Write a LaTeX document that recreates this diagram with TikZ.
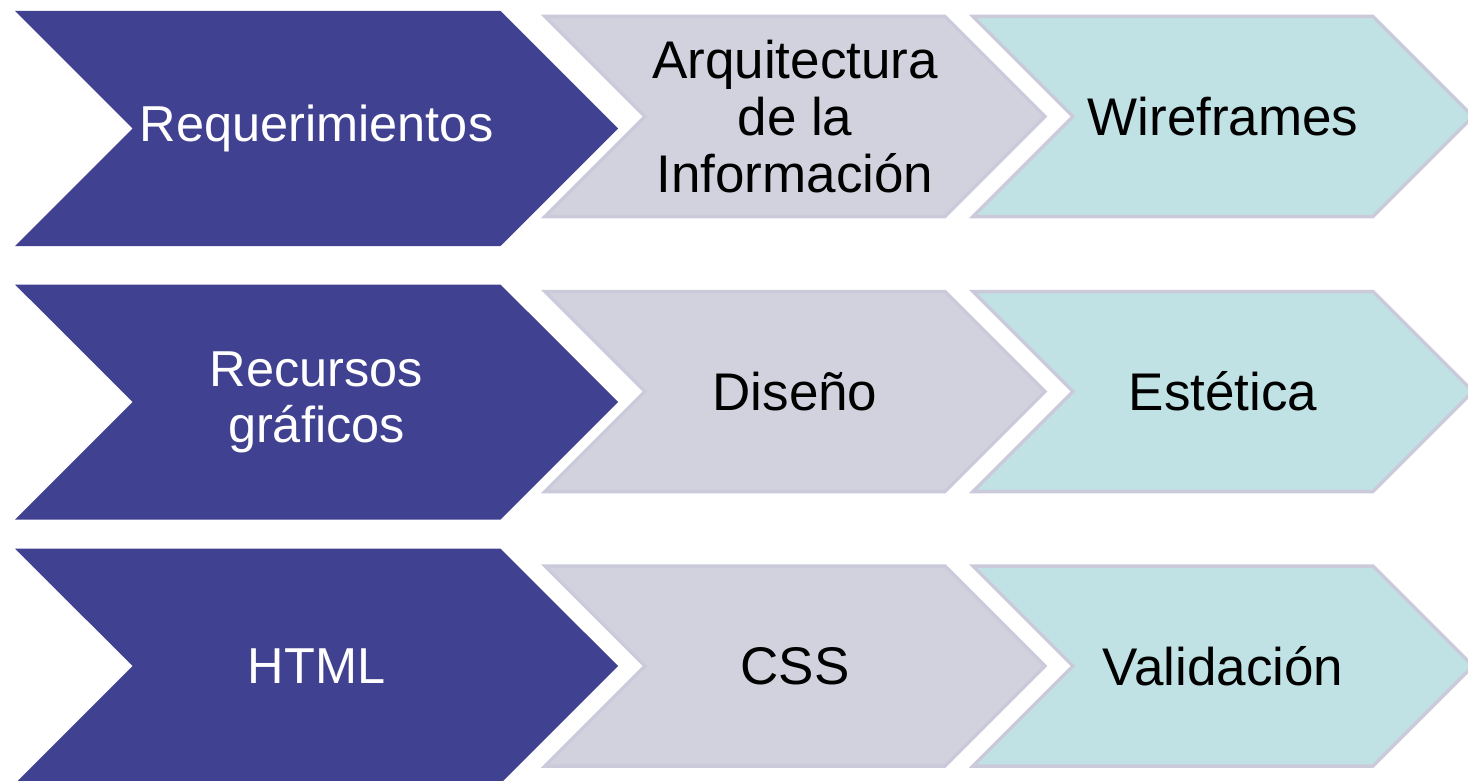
\documentclass[tikz,border=0pt]{standalone}
\usepackage{fontspec}
\setmainfont{Liberation Sans}
\usetikzlibrary{shapes.symbols}
\definecolor{chevblue}{RGB}{65,65,145}
\definecolor{chevgray}{RGB}{210,210,222}
\definecolor{chevteal}{RGB}{192,226,228}
\definecolor{chevline}{RGB}{202,202,218}

\begin{document}
\begin{tikzpicture}[
    x=1pt, y=-1pt,
    chevron/.style={signal, signal from=west, signal to=east, signal pointer angle=90, inner sep=0pt, align=center},
    mainstep/.style={chevron, fill=chevblue, text=white, minimum width=603pt, minimum height=235pt, font=\fontsize{50.5}{56}\selectfont},
    substep/.style={chevron, fill=#1, draw=chevline, line width=3.5pt, text=black, minimum width=500pt, minimum height=200pt, font=\fontsize{53}{57}\selectfont}
]
\useasboundingbox (0,0) rectangle (1468,781);

% Row 1
\node[mainstep] (req) at (316.5,128.5) {Requerimientos};
\node[substep=chevgray] (arq) at (795,116.5) {Arquitectura\\de la\\Información};
\node[substep=chevteal] (wire) at (1223,116.5) {Wireframes};

% Row 2
\node[mainstep] (rec) at (316.5,402) {Recursos\\gráficos};
\node[substep=chevgray] (dis) at (795,391.5) {Diseño};
\node[substep=chevteal] (est) at (1223,391.5) {Estética};

% Row 3
\node[mainstep] (html) at (316.5,666) {HTML};
\node[substep=chevgray] (css) at (795,666) {CSS};
\node[substep=chevteal] (valid) at (1223,666) {Validación};

\end{tikzpicture}
\end{document}
